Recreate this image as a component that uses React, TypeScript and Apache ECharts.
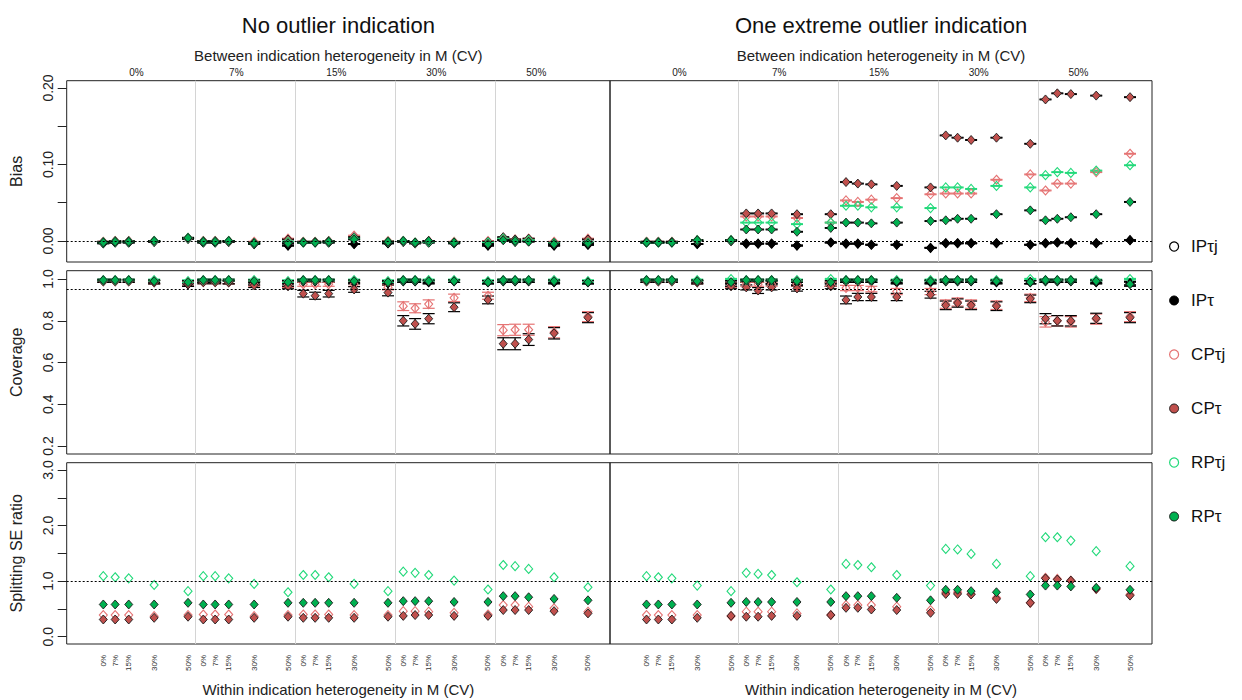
import React, { useEffect, useRef } from 'react';
import * as echarts from 'echarts';

// ---------- categories / labels ----------
const panelTitles = ['No outlier indication', 'One extreme outlier indication'];
const betweenLabels = ['0%', '7%', '15%', '30%', '50%'];
const withinLabels = ['0%', '7%', '15%', '30%', '50%'];
const withinCV = [0, 7, 15, 30, 50];
const seriesNames = ['IPτj', 'IPτ', 'CPτj', 'CPτ', 'RPτj', 'RPτ'];
const rowNames = ['Bias', 'Coverage', 'Splitting SE ratio'];
const betweenAxisName = 'Between indication heterogeneity in M (CV)';
const withinAxisName = 'Within indication heterogeneity in M (CV)';

// tick values / labels
const biasTicks = [0, 0.05, 0.1, 0.15, 0.2];
const biasTickLabels = [0, 0.1, 0.2];
const covTicks = [0.2, 0.4, 0.6, 0.8, 1.0];
const covTickLabels = [0.2, 0.4, 0.6, 0.8, 1.0];
const seTicks = [0, 0.5, 1, 1.5, 2, 2.5, 3];
const seTickLabels = [0, 1, 2, 3];
const refLines = [0, 0.95, 1.0];

// ---------- Bias, no outlier ----------
const biasNoIPt = [-0.003, -0.002, -0.002, -0.001, 0.003, -0.002, -0.002, -0.001, -0.004, -0.006, -0.002, -0.002, -0.002, -0.004, -0.003, -0.001, -0.003, -0.002, -0.003, -0.006, 0.002, -0.001, 0.0, -0.006, -0.005];
const biasNoIPtj = [-0.003, -0.002, -0.002, -0.001, 0.003, -0.002, -0.002, -0.001, -0.004, -0.006, -0.002, -0.002, -0.002, -0.004, -0.003, -0.001, -0.003, -0.002, -0.003, -0.006, 0.002, -0.001, 0.0, -0.006, -0.005];
const biasNoCPtj = [-0.001, 0.0, 0.0, 0.0, 0.004, 0.0, 0.0, 0.0, -0.001, 0.003, -0.001, -0.001, 0.0, 0.007, 0.0, 0.0, -0.002, 0.0, -0.001, 0.0, 0.004, 0.002, 0.003, -0.001, 0.003];
const biasNoCPt = [-0.001, 0.0, 0.0, 0.0, 0.004, 0.0, 0.0, 0.0, -0.002, 0.002, -0.001, -0.001, 0.0, 0.005, -0.001, 0.0, -0.002, 0.0, -0.002, -0.001, 0.005, 0.002, 0.003, -0.002, 0.002];
const biasNoRPtj = [-0.002, -0.001, -0.001, 0.0, 0.004, -0.001, -0.001, 0.0, -0.003, -0.001, -0.002, -0.002, -0.001, 0.003, -0.001, 0.0, -0.002, -0.001, -0.002, -0.002, 0.003, 0.0, 0.001, -0.003, -0.002];
const biasNoRPt = [-0.002, -0.001, -0.001, 0.0, 0.004, -0.001, -0.001, 0.0, -0.003, -0.003, -0.002, -0.002, -0.001, 0.002, -0.001, 0.0, -0.002, 0.0, -0.002, -0.004, 0.001, 0.0, -0.001, -0.004, -0.003];

// ---------- Bias, one extreme outlier ----------
const biasOutIPt = [-0.002, -0.002, -0.002, -0.004, 0.0, -0.0035, -0.0035, -0.0035, -0.006, -0.002, -0.0035, -0.0035, -0.005, -0.005, -0.009, -0.003, -0.003, -0.003, -0.003, -0.005, -0.003, -0.002, -0.003, -0.003, 0.001];
const biasOutIPtj = [-0.002, -0.002, -0.002, -0.004, 0.0, -0.0035, -0.0035, -0.0035, -0.006, -0.002, -0.0035, -0.0035, -0.005, -0.005, -0.009, -0.003, -0.003, -0.003, -0.003, -0.005, -0.003, -0.002, -0.003, -0.003, 0.001];
const biasOutCPtj = [-0.001, -0.001, -0.001, 0.001, 0.001, 0.032, 0.032, 0.032, 0.030, 0.024, 0.053, 0.051, 0.054, 0.056, 0.061, 0.062, 0.062, 0.062, 0.080, 0.087, 0.066, 0.075, 0.075, 0.090, 0.114];
const biasOutCPt = [-0.001, -0.001, -0.001, 0.001, 0.001, 0.036, 0.036, 0.036, 0.035, 0.035, 0.077, 0.075, 0.074, 0.072, 0.070, 0.138, 0.135, 0.132, 0.135, 0.127, 0.185, 0.193, 0.192, 0.190, 0.188];
const biasOutRPtj = [-0.002, -0.002, -0.002, 0.001, 0.001, 0.024, 0.024, 0.024, 0.022, 0.024, 0.046, 0.046, 0.044, 0.044, 0.043, 0.070, 0.070, 0.068, 0.072, 0.070, 0.086, 0.090, 0.089, 0.092, 0.099];
const biasOutRPt = [-0.002, -0.002, -0.002, 0.001, 0.001, 0.015, 0.015, 0.015, 0.012, 0.017, 0.024, 0.024, 0.023, 0.024, 0.026, 0.027, 0.029, 0.029, 0.035, 0.040, 0.027, 0.029, 0.031, 0.035, 0.051];

// ---------- Coverage, no outlier ----------
const covNoIPt = [0.99, 0.99, 0.99, 0.985, 0.975, 0.99, 0.99, 0.985, 0.98, 0.975, 0.99, 0.99, 0.99, 0.985, 0.98, 0.99, 0.99, 0.985, 0.99, 0.985, 0.99, 0.99, 0.99, 0.985, 0.985];
const covNoIPtj = [0.99, 0.99, 0.99, 0.985, 0.975, 0.99, 0.99, 0.985, 0.98, 0.975, 0.99, 0.99, 0.99, 0.985, 0.98, 0.99, 0.99, 0.985, 0.99, 0.985, 0.99, 0.99, 0.99, 0.985, 0.985];
const covNoCPtj = [0.99, 0.99, 0.99, 0.985, 0.98, 0.985, 0.985, 0.985, 0.975, 0.97, 0.975, 0.975, 0.975, 0.975, 0.96, 0.87, 0.86, 0.88, 0.91, 0.92, 0.755, 0.757, 0.757, 0.745, 0.82];
const covNoCPt = [0.99, 0.99, 0.99, 0.985, 0.975, 0.985, 0.985, 0.985, 0.97, 0.965, 0.93, 0.92, 0.93, 0.95, 0.935, 0.80, 0.785, 0.81, 0.865, 0.90, 0.69, 0.69, 0.71, 0.74, 0.815];
const covNoRPtj = [0.995, 0.995, 0.995, 0.995, 0.99, 0.995, 0.995, 0.995, 0.995, 0.99, 0.995, 0.995, 0.995, 0.995, 0.99, 0.995, 0.995, 0.995, 0.995, 0.99, 0.995, 0.995, 0.995, 0.995, 0.99];
const covNoRPt = [0.995, 0.995, 0.995, 0.99, 0.985, 0.995, 0.995, 0.995, 0.99, 0.985, 0.995, 0.995, 0.995, 0.99, 0.985, 0.995, 0.995, 0.99, 0.99, 0.985, 0.995, 0.995, 0.995, 0.99, 0.985];

// ---------- Coverage, one extreme outlier ----------
const covOutIPt = [0.99, 0.99, 0.99, 0.985, 0.975, 0.99, 0.99, 0.985, 0.98, 0.975, 0.99, 0.99, 0.99, 0.985, 0.985, 0.99, 0.99, 0.99, 0.985, 0.985, 0.99, 0.99, 0.99, 0.985, 0.98];
const covOutIPtj = [0.99, 0.99, 0.99, 0.985, 0.975, 0.99, 0.99, 0.985, 0.98, 0.975, 0.99, 0.99, 0.99, 0.985, 0.985, 0.99, 0.99, 0.99, 0.985, 0.985, 0.99, 0.99, 0.99, 0.985, 0.98];
const covOutCPtj = [0.99, 0.99, 0.99, 0.985, 0.97, 0.975, 0.975, 0.975, 0.975, 0.975, 0.957, 0.957, 0.952, 0.94, 0.94, 0.88, 0.89, 0.88, 0.875, 0.91, 0.795, 0.80, 0.795, 0.808, 0.82];
const covOutCPt = [0.99, 0.99, 0.99, 0.985, 0.965, 0.96, 0.945, 0.96, 0.955, 0.965, 0.90, 0.914, 0.914, 0.914, 0.925, 0.874, 0.885, 0.874, 0.87, 0.905, 0.81, 0.80, 0.80, 0.812, 0.815];
const covOutRPtj = [0.995, 0.995, 0.995, 0.995, 1.0, 0.995, 0.995, 0.995, 0.995, 1.0, 0.995, 0.995, 0.995, 0.995, 0.995, 0.995, 0.995, 0.995, 0.995, 1.0, 0.995, 0.995, 0.995, 0.995, 1.0];
const covOutRPt = [0.995, 0.995, 0.995, 0.99, 0.985, 0.995, 0.995, 0.995, 0.99, 0.985, 0.995, 0.995, 0.995, 0.99, 0.99, 0.995, 0.995, 0.995, 0.99, 0.985, 0.995, 0.995, 0.995, 0.99, 0.975];

// ---------- Splitting SE ratio, no outlier ----------
const seNoCPtj = [0.39, 0.39, 0.39, 0.37, 0.39, 0.40, 0.40, 0.40, 0.37, 0.39, 0.40, 0.40, 0.40, 0.39, 0.39, 0.46, 0.46, 0.45, 0.43, 0.40, 0.57, 0.57, 0.54, 0.51, 0.45];
const seNoCPt = [0.31, 0.31, 0.31, 0.34, 0.36, 0.31, 0.31, 0.31, 0.34, 0.36, 0.34, 0.34, 0.34, 0.34, 0.36, 0.375, 0.39, 0.39, 0.375, 0.375, 0.48, 0.48, 0.48, 0.46, 0.42];
const seNoRPtj = [1.09, 1.07, 1.05, 0.93, 0.82, 1.09, 1.09, 1.05, 0.95, 0.80, 1.11, 1.11, 1.07, 0.95, 0.82, 1.17, 1.15, 1.11, 1.01, 0.85, 1.29, 1.27, 1.22, 1.07, 0.89];
const seNoRPt = [0.58, 0.58, 0.58, 0.58, 0.61, 0.58, 0.58, 0.58, 0.58, 0.61, 0.61, 0.61, 0.61, 0.61, 0.61, 0.64, 0.64, 0.64, 0.625, 0.625, 0.73, 0.73, 0.71, 0.68, 0.655];

// ---------- Splitting SE ratio, one extreme outlier ----------
const seOutCPtj = [0.39, 0.39, 0.39, 0.39, 0.37, 0.45, 0.45, 0.45, 0.42, 0.39, 0.57, 0.57, 0.57, 0.54, 0.48, 0.80, 0.80, 0.77, 0.70, 0.61, 1.06, 1.04, 1.01, 0.86, 0.76];
const seOutCPt = [0.31, 0.31, 0.31, 0.34, 0.375, 0.36, 0.36, 0.375, 0.375, 0.39, 0.52, 0.52, 0.49, 0.48, 0.43, 0.77, 0.77, 0.76, 0.68, 0.61, 1.05, 1.03, 1.01, 0.86, 0.74];
const seOutRPtj = [1.09, 1.07, 1.05, 0.92, 0.82, 1.15, 1.13, 1.11, 0.98, 0.85, 1.31, 1.29, 1.25, 1.11, 0.92, 1.58, 1.57, 1.49, 1.31, 1.09, 1.79, 1.79, 1.73, 1.54, 1.27];
const seOutRPt = [0.58, 0.58, 0.58, 0.58, 0.61, 0.625, 0.625, 0.625, 0.625, 0.625, 0.73, 0.73, 0.73, 0.70, 0.655, 0.845, 0.845, 0.82, 0.80, 0.76, 0.92, 0.92, 0.905, 0.88, 0.845];

// simulation count used for the coverage confidence intervals, bias MC error half-width
const N_SIM = 1000;
const BIAS_HALF = 0.0005;

// ---------- layout ----------
const FONT = 'Liberation Sans, Arial, sans-serif';
const GROUP_STRIDE = 59;
const X_MIN = -21.6;
const X_MAX = 299;
const BETWEEN_LABEL_OFFSET = 19.5;
const GRID_LEFT = [66.7, 610];
const GRID_WIDTH = [543.3, 542];
const ROW_TOP = [80.7, 270.7, 462.7];
const ROW_HEIGHT = [181.3, 183.3, 181.3];
const ROW_MIN = [-0.0275, 0.1617, -0.131];
const ROW_MAX = [0.2095, 1.04, 3.131];

const styles: Record<string, { fill: string; border: string; bar: string; hollow: boolean }> = {
  'IPτj': { fill: 'rgba(0,0,0,0)', border: '#000000', bar: '#000000', hollow: true },
  'IPτ': { fill: '#000000', border: '#000000', bar: '#000000', hollow: false },
  'CPτj': { fill: 'rgba(0,0,0,0)', border: '#E57373', bar: '#E57373', hollow: true },
  'CPτ': { fill: '#C0504D', border: '#1a1a1a', bar: '#000000', hollow: false },
  'RPτj': { fill: 'rgba(0,0,0,0)', border: '#22D97A', bar: '#22D97A', hollow: true },
  'RPτ': { fill: '#00B050', border: '#1a1a1a', bar: '#000000', hollow: false },
};

const tables: Record<string, number[]>[][] = [
  [
    { 'IPτj': biasNoIPtj, 'IPτ': biasNoIPt, 'CPτj': biasNoCPtj, 'CPτ': biasNoCPt, 'RPτj': biasNoRPtj, 'RPτ': biasNoRPt },
    { 'IPτj': biasOutIPtj, 'IPτ': biasOutIPt, 'CPτj': biasOutCPtj, 'CPτ': biasOutCPt, 'RPτj': biasOutRPtj, 'RPτ': biasOutRPt },
  ],
  [
    { 'IPτj': covNoIPtj, 'IPτ': covNoIPt, 'CPτj': covNoCPtj, 'CPτ': covNoCPt, 'RPτj': covNoRPtj, 'RPτ': covNoRPt },
    { 'IPτj': covOutIPtj, 'IPτ': covOutIPt, 'CPτj': covOutCPtj, 'CPτ': covOutCPt, 'RPτj': covOutRPtj, 'RPτ': covOutRPt },
  ],
  [
    { 'CPτj': seNoCPtj, 'CPτ': seNoCPt, 'RPτj': seNoRPtj, 'RPτ': seNoRPt },
    { 'CPτj': seOutCPtj, 'CPτ': seOutCPt, 'RPτj': seOutRPtj, 'RPτ': seOutRPt },
  ],
];

const xPositions: number[] = [];
betweenLabels.forEach((_, g) => withinCV.forEach((cv) => xPositions.push(g * GROUP_STRIDE + cv)));
const separators = betweenLabels.slice(1).map((_, g) => (g + 1) * GROUP_STRIDE - (GROUP_STRIDE - withinCV[withinCV.length - 1]) / 2);
const betweenPos = betweenLabels.map((_, g) => g * GROUP_STRIDE + BETWEEN_LABEL_OFFSET);

const rowTicks = [biasTicks, covTicks, seTicks];
const rowTickLabels = [biasTickLabels, covTickLabels, seTickLabels];

function findIndex(arr: number[], v: number) {
  for (let i = 0; i < arr.length; i++) if (Math.abs(arr[i] - v) < 1e-6) return i;
  return -1;
}

function buildOption() {
  const grid: any[] = [];
  const xAxis: any[] = [];
  const yAxis: any[] = [];
  const series: any[] = [];

  for (let r = 0; r < 3; r++) {
    for (let c = 0; c < 2; c++) {
      const gi = r * 2 + c;
      grid.push({
        left: GRID_LEFT[c], top: ROW_TOP[r], width: GRID_WIDTH[c], height: ROW_HEIGHT[r],
        show: true, borderColor: '#222', borderWidth: 1, backgroundColor: 'transparent',
      });
      const isBottom = r === 2;
      xAxis.push({
        gridIndex: gi, type: 'value', min: X_MIN, max: X_MAX, position: 'bottom',
        axisLine: { show: false, onZero: false }, axisTick: { show: false }, splitLine: { show: false },
        axisLabel: isBottom ? {
          show: true, customValues: xPositions, rotate: 90, fontSize: 8, margin: 11, color: '#333', fontFamily: FONT,
          formatter: (v: number) => { const i = findIndex(xPositions, v); return i >= 0 ? withinLabels[i % withinLabels.length] : ''; },
        } : { show: false },
        name: isBottom ? withinAxisName : '', nameLocation: 'middle', nameGap: 38,
        nameTextStyle: { fontSize: 15, color: '#222', fontFamily: FONT },
      });
      const lab = rowTickLabels[r];
      const dec = r === 0 ? 2 : 1;
      yAxis.push({
        gridIndex: gi, type: 'value', min: ROW_MIN[r], max: ROW_MAX[r], position: 'left',
        axisLine: { show: false, onZero: false }, splitLine: { show: false },
        axisTick: { show: c === 0, length: 9, customValues: rowTicks[r], lineStyle: { color: '#222' } },
        axisLabel: {
          show: c === 0, customValues: lab, rotate: 90, fontSize: 14, margin: 12, color: '#222', fontFamily: FONT,
          formatter: (v: number) => v.toFixed(dec),
        },
        name: c === 0 ? rowNames[r] : '', nameLocation: 'middle', nameRotate: 90, nameGap: 42,
        nameTextStyle: { fontSize: 16, color: '#222', fontFamily: FONT },
      });

      const tab = tables[r][c];
      const names = seriesNames.filter((n) => tab[n]);
      names.forEach((name, k) => {
        const st = styles[name];
        const vals = tab[name];
        if (r < 2) {
          series.push({
            type: 'custom', name: name + ' CI', xAxisIndex: gi, yAxisIndex: gi, clip: false,
            encode: { x: 0, y: [1, 2] },
            data: vals.map((v, i) => {
              const h = r === 0 ? BIAS_HALF : 1.96 * Math.sqrt(Math.max(v * (1 - v), 0.002) / N_SIM);
              return [xPositions[i], v - h, v + h];
            }),
            renderItem: (params: any, api: any) => {
              const x = api.value(0);
              const lo = api.coord([x, api.value(1)]);
              const hi = api.coord([x, api.value(2)]);
              const w = 6;
              const style = { stroke: st.bar, lineWidth: 1.2 };
              return {
                type: 'group',
                children: [
                  { type: 'line', shape: { x1: lo[0], y1: lo[1], x2: hi[0], y2: hi[1] }, style },
                  { type: 'line', shape: { x1: lo[0] - w, y1: lo[1], x2: lo[0] + w, y2: lo[1] }, style },
                  { type: 'line', shape: { x1: hi[0] - w, y1: hi[1], x2: hi[0] + w, y2: hi[1] }, style },
                ],
              };
            },
          });
        }
        const s: any = {
          type: 'scatter', name, xAxisIndex: gi, yAxisIndex: gi,
          symbol: 'diamond', symbolSize: [8, 9],
          itemStyle: { color: st.fill, borderColor: st.border, borderWidth: st.hollow ? 1.1 : 0.9, opacity: 1 },
          data: vals.map((v, i) => [xPositions[i], v]),
        };
        if (k === 0) {
          s.markLine = {
            silent: true, symbol: ['none', 'none'], label: { show: false }, animation: false,
            data: [
              ...separators.map((sx) => ({ xAxis: sx, lineStyle: { color: '#d4d4d4', type: 'solid', width: 1 } })),
              { yAxis: refLines[r], lineStyle: { color: '#000', type: [2, 2], width: 1 } },
            ],
          };
        }
        series.push(s);
      });
    }
  }

  // top axes for between-indication labels
  for (let c = 0; c < 2; c++) {
    xAxis.push({
      gridIndex: c, type: 'value', position: 'top', min: X_MIN, max: X_MAX,
      axisLine: { show: false, onZero: false }, axisTick: { show: false }, splitLine: { show: false },
      axisLabel: {
        show: true, customValues: betweenPos, fontSize: 10, margin: 3, color: '#222', fontFamily: FONT,
        formatter: (v: number) => { const i = findIndex(betweenPos, v); return i >= 0 ? betweenLabels[i] : ''; },
      },
      name: betweenAxisName, nameLocation: 'middle', nameGap: 18,
      nameTextStyle: { fontSize: 15, color: '#222', fontFamily: FONT },
    });
  }

  const graphic = panelTitles.map((t, c) => ({
    type: 'text', x: GRID_LEFT[c] + GRID_WIDTH[c] / 2, y: 25,
    style: { text: t, font: `22px ${FONT}`, fill: '#111', textAlign: 'center', textVerticalAlign: 'middle' },
  }));

  return {
    animation: false,
    backgroundColor: '#ffffff',
    textStyle: { fontFamily: FONT },
    grid, xAxis, yAxis, series, graphic,
    legend: {
      orient: 'vertical', left: 1164, top: 233, itemWidth: 24, itemHeight: 9, itemGap: 37,
      selectedMode: false,
      textStyle: { fontSize: 17, lineHeight: 17, color: '#111', fontFamily: FONT },
      data: seriesNames.map((n) => ({
        name: n, icon: 'circle',
        itemStyle: { color: styles[n].fill, borderColor: styles[n].border, borderWidth: styles[n].hollow ? 1.2 : 1 },
      })),
    },
  };
}

export default function App() {
  const ref = useRef<HTMLDivElement>(null);
  useEffect(() => {
    if (!ref.current) return;
    const chart = echarts.init(ref.current, undefined, { renderer: 'svg' });
    chart.setOption(buildOption() as any);
    return () => chart.dispose();
  }, []);
  return <div ref={ref} style={{ position: 'fixed', left: 0, top: 0, width: 1242, height: 700, background: '#fff' }} />;
}
